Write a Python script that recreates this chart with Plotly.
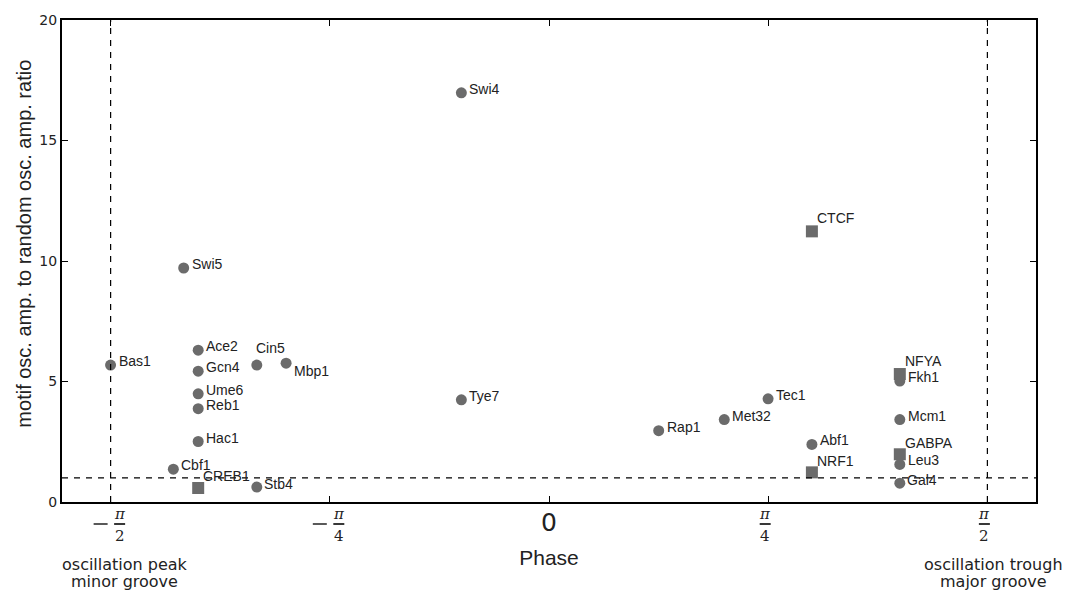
import numpy as np
import plotly.graph_objects as go

# ---- data ----
circle_names = ["Bas1", "Swi5", "Ace2", "Gcn4", "Ume6", "Reb1", "Hac1", "Cbf1",
                "Cin5", "Mbp1", "Stb4", "Swi4", "Tye7", "Rap1", "Met32", "Tec1",
                "Abf1", "Fkh1", "Mcm1", "Leu3", "Gal4"]
circle_phase = [-1.571, -1.309, -1.257, -1.257, -1.257, -1.257, -1.257, -1.346,
                -1.047, -0.942, -1.047, -0.314, -0.314, 0.393, 0.628, 0.785,
                0.942, 1.257, 1.257, 1.257, 1.257]
circle_ratio = [5.68, 9.71, 6.30, 5.43, 4.49, 3.87, 2.51, 1.36,
                5.68, 5.76, 0.62, 16.98, 4.24, 2.96, 3.42, 4.28,
                2.39, 5.02, 3.42, 1.56, 0.78]

square_names = ["CREB1", "CTCF", "NRF1", "NFYA", "GABPA"]
square_phase = [-1.257, 0.942, 0.942, 1.257, 1.257]
square_ratio = [0.58, 11.23, 1.23, 5.31, 1.98]

xtick_vals = [-np.pi / 2, -np.pi / 4, 0, np.pi / 4, np.pi / 2]
xtick_num = ["π", "π", "0", "π", "π"]
xtick_den = ["2", "4", "", "4", "2"]
xtick_neg = [True, True, False, False, False]
ytick_vals = [0, 5, 10, 15, 20]

x_title = "Phase"
y_title = "motif osc. amp. to random osc. amp. ratio"
left_note = ["oscillation peak", "minor groove"]
right_note = ["oscillation trough", "major groove"]

# ---- styles ----
GREY = "#6b6b6b"
DARK = "#222222"
label_offsets = {"Cin5": (-3, 17), "Mbp1": (6, -8), "Stb4": (5, 3), "Gal4": (5, 3),
                 "CREB1": (3, 12), "CTCF": (3, 13), "NRF1": (3, 11),
                 "NFYA": (3, 13), "GABPA": (3, 11)}

fig = go.Figure()
fig.add_trace(go.Scatter(x=circle_phase, y=circle_ratio, mode="markers",
                         marker=dict(symbol="circle", size=11, color=GREY),
                         hovertext=circle_names, showlegend=False))
fig.add_trace(go.Scatter(x=square_phase, y=square_ratio, mode="markers",
                         marker=dict(symbol="square", size=12, color=GREY),
                         hovertext=square_names, showlegend=False))

label_font = dict(family="Liberation Sans, Arial, sans-serif", size=14, color=DARK)
for names, xs, ys in [(circle_names, circle_phase, circle_ratio),
                      (square_names, square_phase, square_ratio)]:
    for n, x, y in zip(names, xs, ys):
        dx, dy = label_offsets.get(n, (6, 4))
        fig.add_annotation(x=x, y=y, text=n, showarrow=False, xanchor="left",
                           yanchor="middle", xshift=dx, yshift=dy, font=label_font)

# reference lines
for xv in [-np.pi / 2, np.pi / 2]:
    fig.add_shape(type="line", xref="x", yref="paper", x0=xv, x1=xv, y0=0, y1=1,
                  line=dict(color="black", width=1.2, dash="6px,6px"))
fig.add_shape(type="line", xref="paper", yref="y", x0=0, x1=1, y0=1, y1=1,
              line=dict(color="black", width=1.2, dash="6px,6px"))

# custom x tick labels (fractions)
serif = dict(family="DejaVu Serif, Liberation Serif, serif", size=15, color=DARK)
for v, num, den, neg in zip(xtick_vals, xtick_num, xtick_den, xtick_neg):
    if den == "":
        fig.add_annotation(x=v, y=0, xref="x", yref="paper", text=num, showarrow=False,
                           yanchor="middle", yshift=-20,
                           font=dict(family="DejaVu Sans, sans-serif", size=25, color=DARK))
        continue
    off = 9 if neg else -3
    fig.add_annotation(x=v, y=0, xref="x", yref="paper", text=f"<i>{num}</i>", showarrow=False,
                       yanchor="middle", xshift=off, yshift=-12, font=serif)
    fig.add_annotation(x=v, y=0, xref="x", yref="paper", text=den, showarrow=False,
                       yanchor="middle", xshift=off, yshift=-34, font=serif)
    fig.add_shape(type="line", xref="x", yref="paper", xsizemode="pixel", ysizemode="pixel",
                  xanchor=v, yanchor=0, x0=off - 5.5, x1=off + 5.5, y0=-22, y1=-22,
                  line=dict(color=DARK, width=1.8))
    if neg:
        fig.add_shape(type="line", xref="x", yref="paper", xsizemode="pixel", ysizemode="pixel",
                      xanchor=v, yanchor=0, x0=-17, x1=-3, y0=-22, y1=-22,
                      line=dict(color=DARK, width=1.5))

side_font = dict(family="DejaVu Sans, sans-serif", size=16, color=DARK)
for note, xv, dx in [(left_note, -np.pi / 2, 14), (right_note, np.pi / 2, 6)]:
    for line_txt, dy in zip(note, [-62, -79]):
        fig.add_annotation(x=xv, y=0, xref="x", yref="paper", xshift=dx, yshift=dy,
                           text=line_txt, showarrow=False, yanchor="middle",
                           borderpad=0, font=side_font)

# y title as annotation for exact placement
fig.add_annotation(x=0, y=0.536, xref="paper", yref="paper", xshift=-38, text=y_title,
                   textangle=-90, showarrow=False, xanchor="center", yanchor="middle",
                   font=dict(family="Liberation Sans, Arial, sans-serif", size=20, color=DARK))

axis_common = dict(showgrid=False, zeroline=False, showline=True, linecolor="black",
                   linewidth=2, mirror="ticks", ticks="inside", ticklen=6,
                   tickcolor="black", tickwidth=1)
fig.update_layout(
    width=1074, height=592,
    margin=dict(l=62, r=38, t=16, b=90),
    plot_bgcolor="white", paper_bgcolor="white",
    xaxis=dict(range=[-1.745, 1.745], tickvals=xtick_vals, showticklabels=False,
               title=dict(text=x_title, standoff=47,
                          font=dict(family="Liberation Sans, Arial, sans-serif", size=21, color=DARK)),
               **axis_common),
    yaxis=dict(range=[0, 20], tickvals=ytick_vals,
               tickfont=dict(family="DejaVu Sans, sans-serif", size=14, color=DARK),
               **axis_common),
)

fig.write_html("out.html", config={"displayModeBar": False},
               post_script="document.body.style.margin='0';document.body.style.overflow='hidden';")
